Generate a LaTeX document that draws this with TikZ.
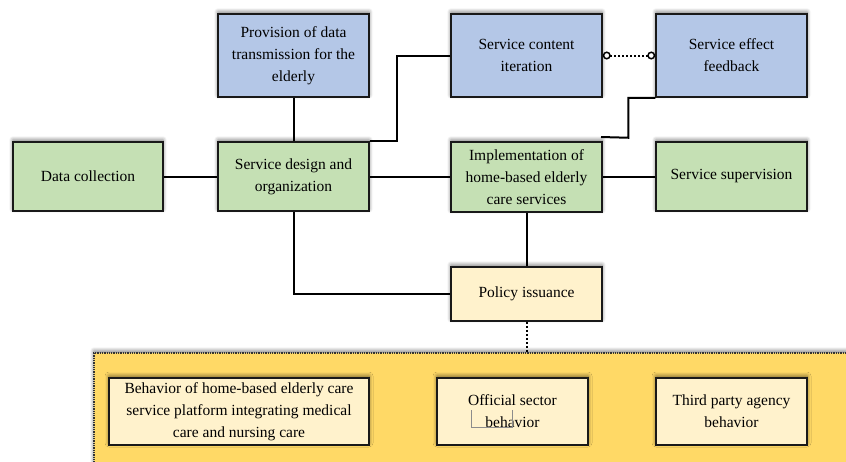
\documentclass[tikz,border=0pt]{standalone}
\usepackage{fontspec}
\setmainfont{Liberation Serif}
\usetikzlibrary{shadows.blur,arrows.meta,calc}
\definecolor{bluebox}{HTML}{B4C7E7}
\definecolor{greenbox}{HTML}{C5E0B4}
\definecolor{paleyellow}{HTML}{FFF2CC}
\definecolor{goldbg}{HTML}{FFD966}
\tikzset{
  shd/.style={blur shadow={shadow xshift=0pt, shadow yshift=2pt, shadow blur steps=8, shadow opacity=55, shadow blur radius=4pt}},
  box/.style={draw=black!90, line width=1.5pt, rectangle, inner sep=0pt, align=center,
    font=\fontsize{15.5}{22}\selectfont, shd},
  bluen/.style={box, fill=bluebox},
  greenn/.style={box, fill=greenbox},
  yellown/.style={box, fill=paleyellow},
  conn/.style={line width=2pt, black},
  dotconn/.style={line width=2pt, black, dotted},
}
\begin{document}
\begin{tikzpicture}[x=1pt,y=-1pt]
\useasboundingbox (0,0) rectangle (846,461);
\clip (0,0) rectangle (846,461);
% container
\node[draw=black!80, line width=1.3pt, densely dotted, fill=goldbg, minimum width=758pt, minimum height=117pt, inner sep=0pt, shd]
  (cont) at (473,411.5) {};
% top row
\node[bluen, minimum width=151pt, minimum height=83pt] (prov) at (293.5,55.5) {Provision of data\\transmission for the\\elderly};
\node[bluen, minimum width=151pt, minimum height=83pt] (content) at (526.5,55.5) {Service content\\iteration};
\node[bluen, minimum width=151pt, minimum height=83pt] (effect) at (731.5,55.5) {Service effect\\feedback};
% middle row
\node[greenn, minimum width=150pt, minimum height=69pt] (data) at (88,176.5) {Data collection};
\node[greenn, minimum width=151pt, minimum height=69pt] (design) at (293.5,176.5) {Service design and\\organization};
\node[greenn, minimum width=151pt, minimum height=70pt] (impl) at (526.5,177) {Implementation of\\home-based elderly\\care services};
\node[greenn, minimum width=151pt, minimum height=69pt] (supv) at (731.5,176.5) {Service supervision};
% policy
\node[yellown, minimum width=151pt, minimum height=54pt] (policy) at (526.5,294) {Policy issuance};
% bottom row
\node[yellown, minimum width=260pt, minimum height=67pt] (behav) at (239,411.5) {Behavior of home-based elderly care\\service platform integrating medical\\care and nursing care};
\node[yellown, minimum width=151pt, minimum height=67pt] (official) at (512.5,411.5) {Official sector\\behavior};
\node[yellown, minimum width=151pt, minimum height=67pt] (third) at (731.5,411.5) {Third party agency\\behavior};
% small artefact in official box
\draw[black!45, line width=0.7pt] (471,410) -- (471,427) -- (512,427) -- (512,410);
% connectors
\coordinate (fend) at (601,137);
\draw[conn] (prov.south) -- (design.north);
\draw[conn] (data.east) -- (design.west);
\draw[conn] (design.east) -- (design.east -| impl.west);
\draw[conn] (design.north east) -- ++(27,0) |- (content.west);
\draw[dotconn, {Circle[open,length=8pt,width=8pt,line width=1.5pt]}-{Circle[open,length=8pt,width=8pt,line width=1.5pt]}] (content.east) -- (effect.west);
\draw[conn] (effect.south west) -- ++(-27,0) -- ++(0,40) -- (fend);
\draw[conn] (impl.east) -- (impl.east -| supv.west);
\draw[conn] (impl.south) -- (policy.north);
\draw[conn] (design.south) |- (policy.west);
\draw[dotconn] (policy.south) -- (policy.south |- cont.north);
\end{tikzpicture}
\end{document}
